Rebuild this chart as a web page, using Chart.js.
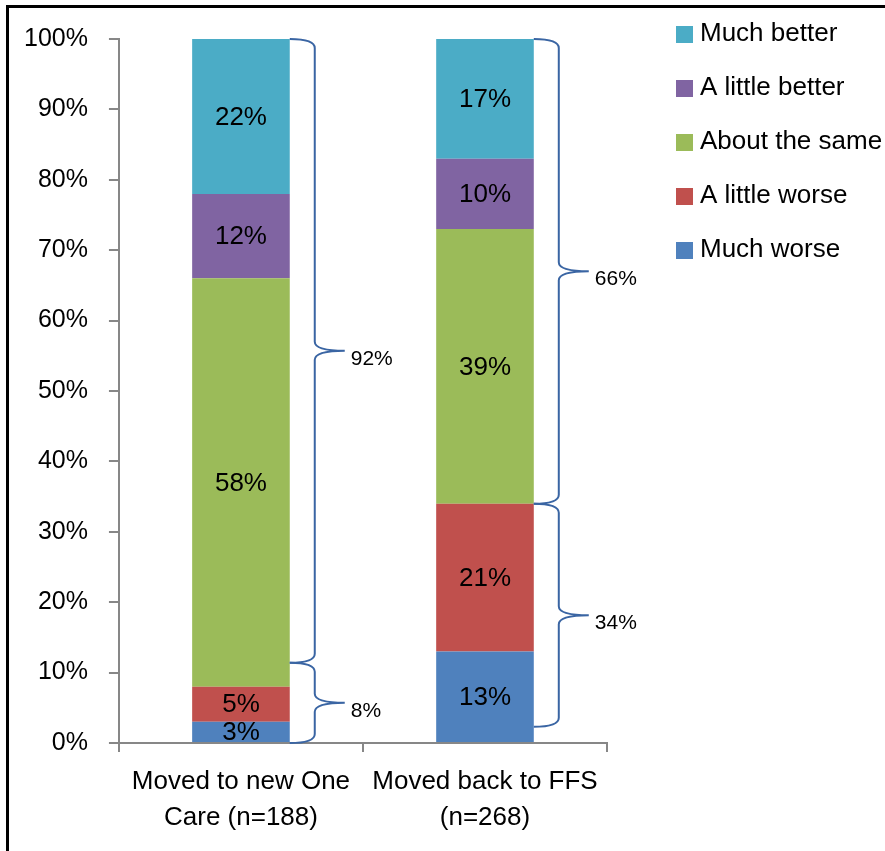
<!DOCTYPE html>
<html>
<head>
<meta charset="utf-8">
<script src="https://cdn.jsdelivr.net/npm/chart.js@4.4.1/dist/chart.umd.min.js"></script>
<style>
  html, body { margin: 0; padding: 0; background: #fff; overflow: hidden; }
  #wrap { position: relative; width: 885px; height: 851px; }
  #frame { position: absolute; left: 6px; top: 5px; width: 900px; height: 900px;
           border-top: 3px solid #000; border-left: 3px solid #000; pointer-events: none; }
  canvas { position: absolute; left: 0; top: 0; }
</style>
</head>
<body>
<div id="wrap">
  <canvas id="surveyChart" width="885" height="851"></canvas>
  <div id="frame"></div>
</div>
<script>
// --- data ---
const categories = [['Moved to new One', 'Care (n=188)'], ['Moved back to FFS', '(n=268)']];
const seriesNames = ['Much worse', 'A little worse', 'About the same', 'A little better', 'Much better'];
const muchWorse = [3, 13];
const littleWorse = [5, 21];
const aboutSame = [58, 39];
const littleBetter = [12, 10];
const muchBetter = [22, 17];

// curly braces next to the bars: which bar, span (in %), label
const braceBar = [0, 0, 1, 1];
const braceFrom = [11.4, 0, 34, 2.3];
const braceTo = [100, 11.4, 100, 34];
const braceLabels = ['92%', '8%', '66%', '34%'];

const seriesColors = ['#4F81BD', '#C0504D', '#9BBB59', '#8064A2', '#4BACC6'];
const FONT = "'Liberation Sans', Arial, sans-serif";
const AXIS_GRAY = '#878787';
const BRACE_BLUE = '#3A65A3';

// Draws segment labels, braces and the legend on top of the bars
const overlayPlugin = {
  id: 'overlay',
  afterDatasetsDraw(chart) {
    const ctx = chart.ctx;
    const yScale = chart.scales.y;
    ctx.save();

    // values inside the segments
    ctx.fillStyle = '#000';
    ctx.font = '26px ' + FONT;
    ctx.textAlign = 'center';
    ctx.textBaseline = 'middle';
    chart.data.datasets.forEach((ds, i) => {
      chart.getDatasetMeta(i).data.forEach((bar, j) => {
        ctx.fillText(ds.data[j] + '%', bar.x, (bar.y + bar.base) / 2 + 1);
      });
    });

    // braces
    const topMeta = chart.getDatasetMeta(0);
    ctx.strokeStyle = BRACE_BLUE;
    ctx.lineWidth = 2;
    ctx.font = '21px ' + FONT;
    ctx.textAlign = 'left';
    braceBar.forEach((b, k) => {
      const bar = topMeta.data[b];
      const x0 = bar.x + bar.width / 2;
      const x1 = x0 + 25;
      const x2 = x0 + 55;
      const yT = yScale.getPixelForValue(braceTo[k]);
      const yB = yScale.getPixelForValue(braceFrom[k]);
      const yM = (yT + yB) / 2;
      const r = 9;
      ctx.beginPath();
      ctx.moveTo(x0, yT);
      ctx.quadraticCurveTo(x1, yT, x1, yT + r);
      ctx.lineTo(x1, yM - r);
      ctx.quadraticCurveTo(x1, yM, x2, yM);
      ctx.quadraticCurveTo(x1, yM, x1, yM + r);
      ctx.lineTo(x1, yB - r);
      ctx.quadraticCurveTo(x1, yB, x0, yB);
      ctx.stroke();
      ctx.fillStyle = '#000';
      ctx.fillText(braceLabels[k], x2 + 6, yM + 8);
    });

    // legend (top item = last dataset)
    const lx = chart.chartArea.right + 69;
    ctx.font = '26px ' + FONT;
    ctx.textBaseline = 'middle';
    const n = chart.data.datasets.length;
    for (let idx = 0; idx < n; idx++) {
      const ds = chart.data.datasets[n - 1 - idx];
      const cy = 34 + idx * 54;
      ctx.fillStyle = ds.backgroundColor;
      ctx.fillRect(lx, cy - 8, 17, 17);
      ctx.fillStyle = '#000';
      ctx.fillText(ds.label, lx + 24, cy);
    }
    ctx.restore();
  }
};

const seriesData = [muchWorse, littleWorse, aboutSame, littleBetter, muchBetter];

new Chart(document.getElementById('surveyChart'), {
  type: 'bar',
  data: {
    labels: categories,
    datasets: seriesNames.map((name, i) => ({
      label: name,
      data: seriesData[i],
      backgroundColor: seriesColors[i],
      borderWidth: 0,
      barPercentage: 0.4,
      categoryPercentage: 1.0
    }))
  },
  options: {
    responsive: false,
    animation: false,
    layout: { padding: { left: 3, right: 278, top: 39, bottom: 3 } },
    plugins: {
      legend: { display: false },
      tooltip: { enabled: false }
    },
    scales: {
      x: {
        stacked: true,
        grid: { drawOnChartArea: false, drawTicks: true, tickLength: 9, color: AXIS_GRAY, lineWidth: 2, offset: true },
        border: { color: AXIS_GRAY, width: 2 },
        ticks: { color: '#000', padding: 12, autoSkip: false, maxRotation: 0,
                 font: { family: FONT, size: 26, lineHeight: 1.385 } }
      },
      y: {
        stacked: true,
        min: 0,
        max: 100,
        grid: { drawOnChartArea: false, drawTicks: true, tickLength: 10, color: AXIS_GRAY, lineWidth: 2 },
        border: { color: AXIS_GRAY, width: 2 },
        ticks: {
          stepSize: 10,
          color: '#000',
          padding: 21,
          font: { family: FONT, size: 25 },
          callback: v => v + '%'
        }
      }
    }
  },
  plugins: [overlayPlugin]
});
</script>
</body>
</html>
